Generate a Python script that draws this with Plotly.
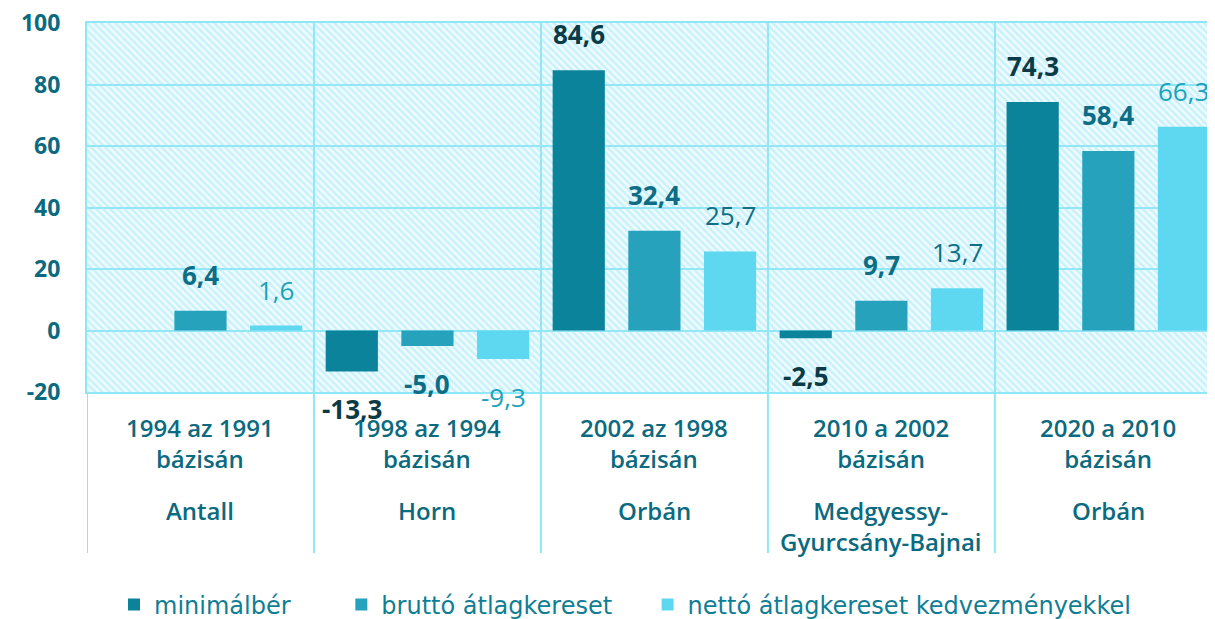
import plotly.graph_objects as go

# periods (x categories) and the governments under them
periods = [
    "1994 az 1991<br>bázisán",
    "1998 az 1994<br>bázisán",
    "2002 az 1998<br>bázisán",
    "2010 a 2002<br>bázisán",
    "2020 a 2010<br>bázisán",
]
governments = ["Antall", "Horn", "Orbán", "Medgyessy-<br>Gyurcsány-Bajnai", "Orbán"]

series_names = ["minimálbér", "bruttó átlagkereset", "nettó átlagkereset kedvezményekkel"]
minimalber = [None, -13.3, 84.6, -2.5, 74.3]
brutto = [6.4, -5.0, 32.4, 9.7, 58.4]
netto = [1.6, -9.3, 25.7, 13.7, 66.3]

y_ticks = [-20, 0, 20, 40, 60, 80, 100]

bar_colors = ["#0b839b", "#26a2bc", "#5ed8f1"]
label_colors = [
    ["#0b3b47"] * 5,
    ["#0c6d85"] * 5,
    ["#1ba2bc", "#1ba2bc", "#0e6f87", "#0e6f87", "#1ba2bc"],
]
label_bold = [True, True, False]
legend_pad = [6, 4, 0]  # trailing spaces to spread the legend entries

# the page body has an 8px margin, so the figure is drawn from (8, 8)
OFF = 8
W, H = 1215 - OFF, 619 - OFF
PLOT_L, PLOT_T, PLOT_B = 87, 23, 392  # wanted positions on the page
M_L, M_T, M_B = PLOT_L - OFF, PLOT_T - OFF, H - (PLOT_B - OFF)
GRID = "#8fe6f7"
TXT = "#0b6a80"
FONT = "Open Sans"

fig = go.Figure()

# hatched background of the plotting area
fig.add_trace(
    go.Bar(
        x=[0.5],
        y=[120],
        base=[-20],
        width=[1],
        xaxis="x",
        yaxis="y",
        marker={
            "color": "rgba(0,0,0,0)",
            "line": {"width": 0},
            "pattern": {
                "shape": "\\",
                "fgcolor": "#9fe8f7",
                "bgcolor": "rgba(0,0,0,0)",
                "size": 5,
                "solidity": 0.48,
            },
        },
        showlegend=False,
        hoverinfo="skip",
    )
)

all_values = [minimalber, brutto, netto]
for i, (name, vals) in enumerate(zip(series_names, all_values)):
    fig.add_trace(
        go.Bar(
            x=periods,
            y=vals,
            name=name + "\u00a0" * legend_pad[i],
            xaxis="x2",
            yaxis="y",
            marker={"color": bar_colors[i], "line": {"width": 0}},
        )
    )

x_range = [-0.5, 4.47]
plot_w = W - M_L
plot_h = H - M_T - M_B
slot_px = plot_w / (x_range[1] - x_range[0]) / 3


def page_to_paper_y(p):
    return (PLOT_B - p) / plot_h


annotations = []
for i, vals in enumerate(all_values):
    for j, v in enumerate(vals):
        if v is None:
            continue
        txt = f"{v:.1f}".replace(".", ",")
        annotations.append(
            dict(
                x=periods[j],
                y=v,
                xref="x2",
                yref="y",
                text=txt,
                showarrow=False,
                xshift=(i - 1) * slot_px,
                yshift=36 if v >= 0 else -38,
                font={
                    "family": FONT,
                    "size": 26,
                    "color": label_colors[i][j],
                    "weight": 700 if label_bold[i] else 400,
                },
            )
        )

# category labels below the plot
for j, p in enumerate(periods):
    annotations.append(
        dict(
            x=p, y=page_to_paper_y(443), xref="x2", yref="paper",
            text=p, showarrow=False, yanchor="middle",
            font={"family": FONT, "size": 24, "color": TXT, "weight": 600},
        )
    )
    annotations.append(
        dict(
            x=p, y=page_to_paper_y(492), xref="x2", yref="paper",
            text=governments[j], showarrow=False, yanchor="top",
            font={"family": FONT, "size": 24, "color": TXT, "weight": 600},
        )
    )

# table lines below the plot
shapes = []
for k in range(5):
    shapes.append(
        dict(
            type="line", xref="x2", yref="paper",
            x0=k - 0.5, x1=k - 0.5, y0=0, y1=page_to_paper_y(553),
            line={"color": GRID, "width": 2},
        )
    )

fig.update_layout(
    width=W,
    height=H,
    margin={"l": M_L, "r": 0, "t": M_T, "b": M_B, "autoexpand": False},
    paper_bgcolor="white",
    plot_bgcolor="#effbfe",
    barmode="group",
    bargap=0.0,
    bargroupgap=0.31,
    xaxis={
        "range": [0, 1],
        "visible": False,
        "fixedrange": True,
        "automargin": False,
    },
    xaxis2={
        "overlaying": "x",
        "type": "category",
        "range": x_range,
        "tickson": "boundaries",
        "showgrid": True,
        "gridcolor": GRID,
        "gridwidth": 2,
        "showticklabels": False,
        "ticks": "",
        "showline": True,
        "mirror": True,
        "linecolor": GRID,
        "linewidth": 2,
        "automargin": False,
    },
    yaxis={
        "range": [-20, 100],
        "tickvals": y_ticks,
        "ticktext": [str(v) for v in y_ticks],
        "showgrid": True,
        "gridcolor": GRID,
        "gridwidth": 2,
        "zeroline": True,
        "zerolinecolor": GRID,
        "zerolinewidth": 2,
        "showline": True,
        "linecolor": GRID,
        "linewidth": 2,
        "ticks": "outside",
        "ticklen": 20,
        "tickcolor": "rgba(0,0,0,0)",
        "tickfont": {"family": FONT, "size": 23, "color": TXT, "weight": 700},
        "ticklabeloverflow": "allow",
        "automargin": False,
    },
    legend={
        "orientation": "h",
        "x": (114 - PLOT_L) / plot_w,
        "xanchor": "left",
        "y": page_to_paper_y(605),
        "yanchor": "middle",
        "font": {"family": "DejaVu Sans", "size": 24, "color": "#0f7e95"},
        "itemwidth": 30,
        "bgcolor": "rgba(0,0,0,0)",
    },
    annotations=annotations,
    shapes=shapes,
)

fig.write_html("out.html")
